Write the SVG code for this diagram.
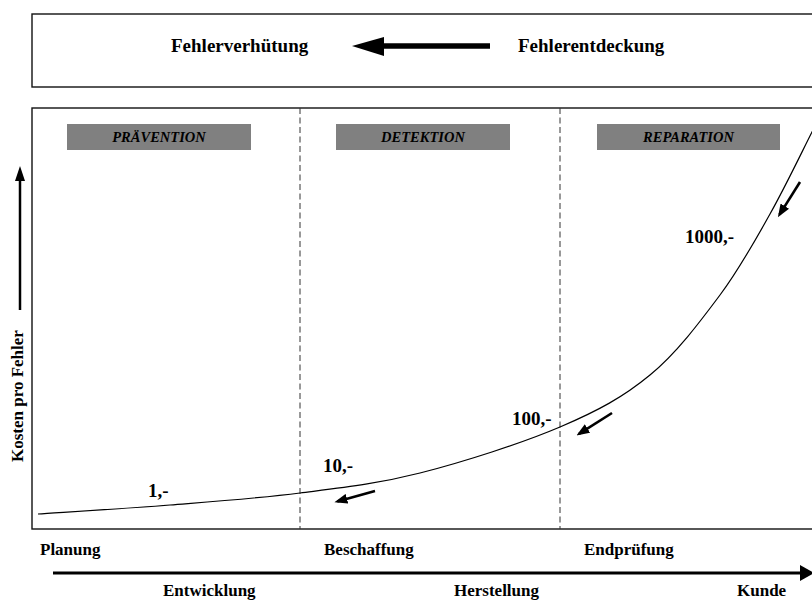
<svg xmlns="http://www.w3.org/2000/svg" width="812" height="601" viewBox="0 0 812 601">
<style>
.t{font-family:"Liberation Serif","Times New Roman",serif;font-weight:bold;fill:#000}
.big{font-size:19px}
.mid{font-size:17px}
.ph{font-size:14.5px;font-style:italic;text-anchor:middle}
.frame{fill:none;stroke:#111;stroke-width:1.4}
.gray{fill:#808080}
.dash{stroke:#333;stroke-width:1;stroke-dasharray:6 3.5;fill:none}
.small{stroke:#000;stroke-width:2.6;fill:none;marker-end:url(#ah)}
</style>
<defs>
<marker id="ah" markerUnits="userSpaceOnUse" viewBox="0 0 13 10" markerWidth="13" markerHeight="10" refX="10" refY="5" orient="auto">
<path d="M0,0 L13,5 L0,10 Z" fill="#000"/>
</marker>
</defs>
<rect width="812" height="601" fill="#fff"/>
<g id="top-box">
<rect class="frame" x="32" y="14" width="800" height="73"/>
<text class="t big" x="171" y="52">Fehlerverhütung</text>
<text class="t big" x="518" y="52">Fehlerentdeckung</text>
</g>
<g id="chart-box">
<rect class="frame" x="32" y="108" width="800" height="421"/>
<line class="dash" x1="300" y1="108" x2="300" y2="529"/>
<line class="dash" x1="560" y1="108" x2="560" y2="529"/>
</g>
<g id="praevention">
<rect class="gray" x="67" y="124" width="184" height="26"/>
<text class="t ph" x="159" y="142">PRÄVENTION</text>
</g>
<g id="detektion">
<rect class="gray" x="336" y="124" width="174" height="26"/>
<text class="t ph" x="423" y="142">DETEKTION</text>
</g>
<g id="reparation">
<rect class="gray" x="597" y="124" width="183" height="26"/>
<text class="t ph" x="688.5" y="142">REPARATION</text>
</g>
<g id="cost-labels">
<text class="t big" x="148" y="497">1,-</text>
<text class="t big" x="323" y="472">10,-</text>
<text class="t big" x="512" y="425">100,-</text>
<text class="t big" x="685" y="243">1000,-</text>
</g>
<g id="y-axis">
<line x1="20" y1="310" x2="20" y2="179" stroke="#000" stroke-width="2.5"/>
<polygon points="15,181 20,166 25,181" fill="#000"/>
<text class="t mid" transform="translate(23,462) rotate(-90)">Kosten pro Fehler</text>
</g>
<g id="x-axis">
<line x1="53" y1="573" x2="802" y2="573" stroke="#000" stroke-width="3"/>
<polygon points="800,565 814,573 800,581" fill="#000"/>
<text class="t mid" x="40" y="555">Planung</text>
<text class="t mid" x="324" y="555">Beschaffung</text>
<text class="t mid" x="584" y="555">Endprüfung</text>
<text class="t mid" x="163" y="596">Entwicklung</text>
<text class="t mid" x="454" y="596">Herstellung</text>
<text class="t mid" x="737" y="596">Kunde</text>
</g>
<g id="connectors">
<path d="M38,514 C60,512.5 126.3,508.5 170,505 C213.7,501.5 258.3,498.3 300,493 C341.7,487.7 376.7,484 420,473 C463.3,462 521.7,443.3 560,427 C598.3,410.7 623.3,397 650,375 C676.7,353 700,321.8 720,295 C740,268.2 754.7,241.2 770,214 C785.3,186.8 803.3,149 812,132 C820.7,115 820.3,115.3 822,112" fill="none" stroke="#000" stroke-width="1.2"/>
<line x1="490" y1="46" x2="382" y2="46" stroke="#000" stroke-width="5.5"/>
<polygon points="352,46 384,37 384,56" fill="#000"/>
<line class="small" x1="800" y1="182" x2="779.5" y2="214.6"/>
<line class="small" x1="612" y1="413" x2="579" y2="433.8"/>
<line class="small" x1="375" y1="491" x2="337.3" y2="501.4"/>
</g>
</svg>
